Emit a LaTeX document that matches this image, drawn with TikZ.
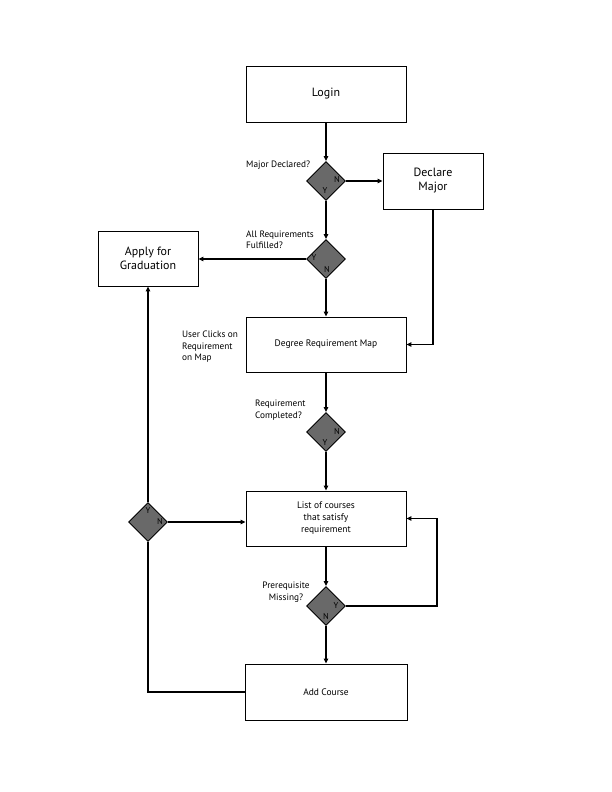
\documentclass[tikz,border=0pt]{standalone}
\usepackage{fontspec}
\setmainfont{PT Sans}
\usetikzlibrary{shapes.geometric,arrows.meta}
\definecolor{dgray}{RGB}{105,105,105}
\begin{document}
\begin{tikzpicture}[x=1bp,y=-1bp,
  box/.style={draw, line width=0.9bp, align=center, inner sep=0pt},
  bigtxt/.style={font=\fontsize{12}{14}\selectfont},
  smtxt/.style={font=\fontsize{9.5}{12}\selectfont},
  dec/.style={diamond, draw=black, fill=dgray, line width=0.9bp, minimum width=39bp, minimum height=39bp, inner sep=0pt},
  flow/.style={line width=1.8bp, -{Triangle[length=5bp,width=4.5bp]}},
  plain/.style={line width=1.8bp},
  lbl/.style={font=\fontsize{9.3}{11.5}\selectfont, align=left, inner sep=0pt},
  yn/.style={font=\fontsize{8.5}{9}\selectfont, inner sep=0pt}]
\path[use as bounding box, fill=white] (0,0) rectangle (612,792);

% boxes
\node[box, bigtxt, minimum width=160bp, minimum height=56bp] (login) at (326,94) {Login};
\node[box, bigtxt, minimum width=100bp, minimum height=56bp] (declare) at (433,181) {Declare\\Major};
\node[box, bigtxt, minimum width=100bp, minimum height=55bp] (apply) at (148,258.5) {Apply for\\Graduation};
\node[box, smtxt, minimum width=160bp, minimum height=55bp] (degree) at (326,344.5) {Degree Requirement Map};
\node[box, smtxt, minimum width=160bp, minimum height=55bp] (list) at (326,518.5) {List of courses\\that satisfy\\requirement};
\node[box, smtxt, minimum width=162bp, minimum height=56bp] (add) at (326,692) {Add Course};

% decisions
\node[dec] (d1) at (326,181) {};
\node[dec] (d2) at (326,259) {};
\node[dec] (d3) at (326,432) {};
\node[dec] (d4) at (148,522) {};
\node[dec] (d5) at (326,606) {};

% Y/N marks
\node[yn] (d1n) at (337,180) {N};
\node[yn] (d1y) at (325,191) {Y};
\node[yn] (d2y) at (314,258) {Y};
\node[yn] (d2n) at (327,270) {N};
\node[yn] (d3n) at (337,432) {N};
\node[yn] (d3y) at (325,443) {Y};
\node[yn] (d4y) at (148,511) {Y};
\node[yn] (d4n) at (160,522) {N};
\node[yn] (d5y) at (336,606) {Y};
\node[yn] (d5n) at (326,617) {N};

% labels
\node[lbl, anchor=west] (l1) at (246,165) {Major Declared?};
\node[lbl, anchor=west] (l2) at (246,240) {All Requirements\\Fulfilled?};
\node[lbl, anchor=west] (l3) at (182,347) {User Clicks on\\Requirement\\on Map};
\node[lbl, anchor=west] (l4) at (255,410) {Requirement\\Completed?};
\node[lbl, align=center] (l5) at (286,592) {Prerequisite\\Missing?};

% connectors
\coordinate (lp) at (437,0);
\draw[flow] (login.south) -- (d1.north);
\draw[flow] (d1.east) -- (declare.west);
\draw[flow] (d1.south) -- (d2.north);
\draw[flow] (d2.west) -- (d2.west -| apply.east);
\draw[flow] (d2.south) -- (degree.north);
\draw[flow] (declare.south) -- (declare.south |- degree.east) -- (degree.east);
\draw[flow] (degree.south) -- (d3.north);
\draw[flow] (d3.south) -- (list.north);
\draw[flow] (d4.east) -- (d4.east -| list.west);
\draw[flow] (list.south) -- (d5.north);
\draw[flow] (d5.east) -- (d5.east -| lp) -- (lp |- list.east) -- (list.east);
\draw[flow] (d5.south) -- (add.north);
\draw[plain] (add.west) -- (add.west -| d4.south) -- (d4.south);
\draw[flow] (d4.north) -- (apply.south);
\end{tikzpicture}
\end{document}
